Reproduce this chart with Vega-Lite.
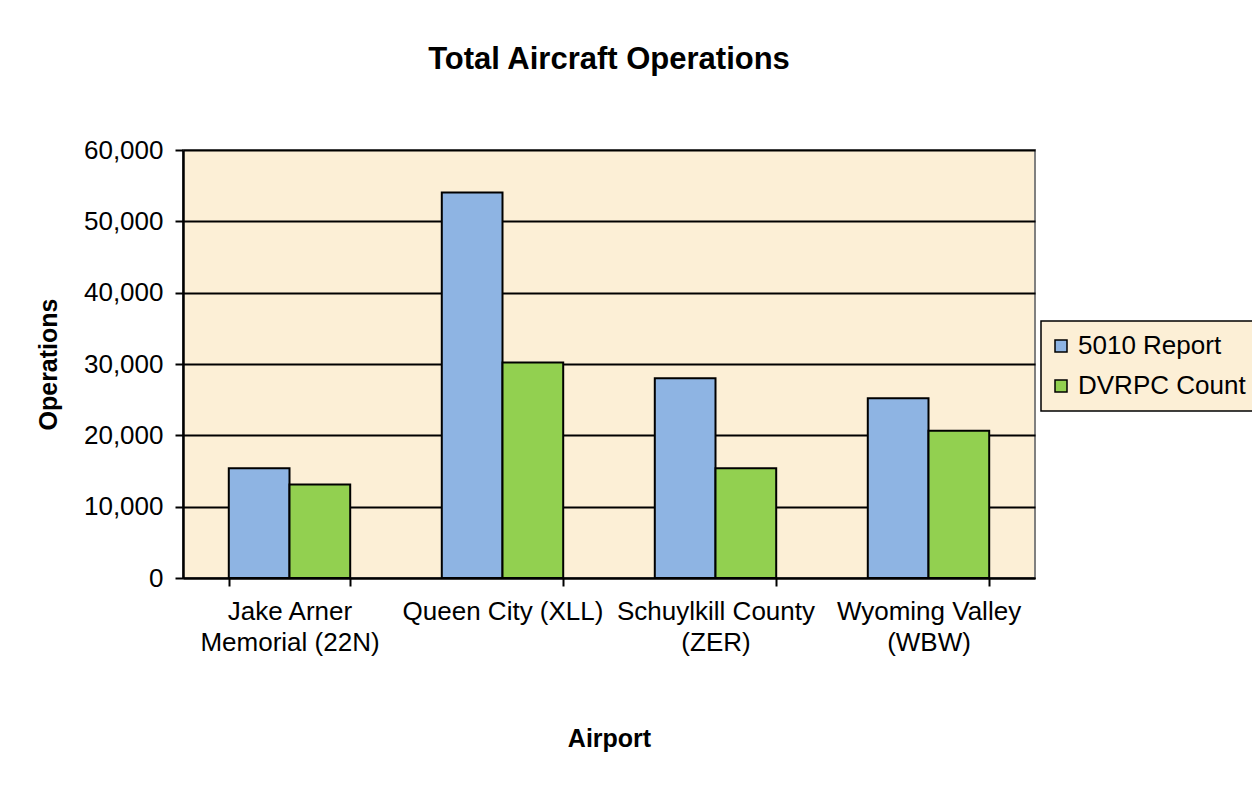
{
  "$schema": "https://vega.github.io/schema/vega-lite/v6.json",
  "autosize": "none",
  "width": 852,
  "height": 428,
  "padding": {"left": 183, "top": 150, "right": 217, "bottom": 208},
  "background": "white",
  "title": {
    "text": "Total Aircraft Operations",
    "font": "Liberation Sans",
    "fontSize": 31,
    "fontWeight": "bold",
    "color": "black",
    "anchor": "middle",
    "frame": "group",
    "offset": 61
  },
  "data": {
    "values": [
      {"airport": "Jake Arner|Memorial (22N)", "series": "5010 Report", "operations": 15400},
      {"airport": "Jake Arner|Memorial (22N)", "series": "DVRPC Count", "operations": 13100},
      {"airport": "Queen City (XLL)", "series": "5010 Report", "operations": 54050},
      {"airport": "Queen City (XLL)", "series": "DVRPC Count", "operations": 30200},
      {"airport": "Schuylkill County|(ZER)", "series": "5010 Report", "operations": 28000},
      {"airport": "Schuylkill County|(ZER)", "series": "DVRPC Count", "operations": 15400},
      {"airport": "Wyoming Valley|(WBW)", "series": "5010 Report", "operations": 25200},
      {"airport": "Wyoming Valley|(WBW)", "series": "DVRPC Count", "operations": 20650}
    ]
  },
  "mark": {"type": "bar", "stroke": "black", "strokeWidth": 2},
  "encoding": {
    "x": {
      "field": "airport",
      "type": "nominal",
      "sort": null,
      "scale": {"paddingInner": 0.43, "paddingOuter": 0.215},
      "axis": {
        "title": "Airport",
        "titleFont": "Liberation Sans",
        "titleFontSize": 25,
        "titleFontWeight": "bold",
        "titleColor": "black",
        "titlePadding": 71,
        "labelExpr": "split(datum.label, '|')",
        "labelAngle": 0,
        "labelFont": "Liberation Sans",
        "labelFontSize": 26,
        "labelColor": "black",
        "labelLimit": 400,
        "labelLineHeight": 31,
        "labelPadding": 12,
        "labelBaseline": "top",
        "tickBand": "extent",
        "tickSize": 8,
        "tickColor": "black",
        "tickWidth": 2,
        "domainColor": "black",
        "domainWidth": 2,
        "grid": false
      }
    },
    "xOffset": {"field": "series", "type": "nominal", "scale": {"paddingInner": 0, "paddingOuter": 0}},
    "y": {
      "field": "operations",
      "type": "quantitative",
      "scale": {"domain": [0, 60000], "nice": false},
      "axis": {
        "title": "Operations",
        "titleFont": "Liberation Sans",
        "titleFontSize": 25,
        "titleFontWeight": "bold",
        "titleColor": "black",
        "titlePadding": 22,
        "values": [0, 10000, 20000, 30000, 40000, 50000, 60000],
        "format": ",d",
        "labelFont": "Liberation Sans",
        "labelFontSize": 26,
        "labelColor": "black",
        "labelPadding": 12,
        "tickSize": 8,
        "tickColor": "black",
        "tickWidth": 2,
        "domainColor": "black",
        "domainWidth": 2.5,
        "grid": true,
        "gridColor": "black",
        "gridWidth": 1.8
      }
    },
    "color": {
      "field": "series",
      "type": "nominal",
      "scale": {"domain": ["5010 Report", "DVRPC Count"], "range": ["#8EB4E3", "#92D050"]},
      "legend": {
        "title": null,
        "orient": "none",
        "legendX": 858,
        "legendY": 171,
        "fillColor": "#FCEFD6",
        "strokeColor": "black",
        "padding": 12,
        "symbolType": "square",
        "symbolSize": 144,
        "symbolStrokeColor": "black",
        "symbolStrokeWidth": 1.5,
        "symbolOpacity": 1,
        "symbolOffset": -5,
        "labelFont": "Liberation Sans",
        "labelFontSize": 26,
        "labelColor": "black",
        "labelLimit": 400,
        "labelOffset": 4,
        "rowPadding": 14,
        "encode": {"legend": {"update": {"strokeWidth": {"value": 1.5}}}}
      }
    }
  },
  "config": {
    "view": {"fill": "#FCEFD6", "stroke": "#808080", "strokeWidth": 2}
  }
}
